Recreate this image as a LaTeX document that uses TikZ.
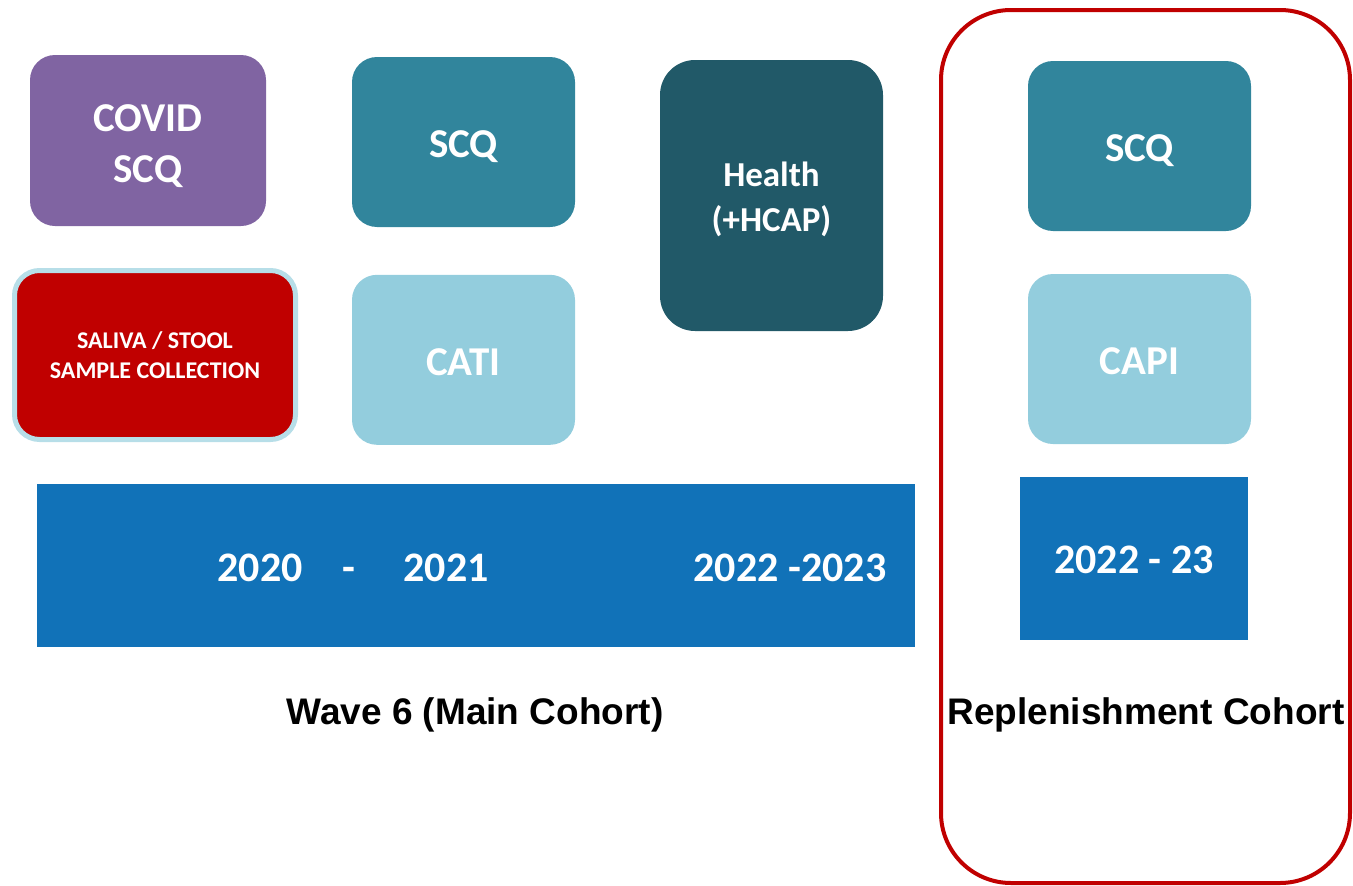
\documentclass[tikz,border=0pt]{standalone}
\usepackage{fontspec}
\setmainfont{Carlito}
\newfontfamily\arialfont{Liberation Sans}
\definecolor{cpurple}{HTML}{8064A2}
\definecolor{cteal}{HTML}{31859C}
\definecolor{cdark}{HTML}{215968}
\definecolor{clight}{HTML}{93CDDD}
\definecolor{cred}{HTML}{C00000}
\definecolor{cblue}{HTML}{1172B8}
\definecolor{cpale}{HTML}{B7DEE8}
\tikzset{
  box/.style={rounded corners=25pt, minimum width=223pt, minimum height=170pt,
    text=white, align=center, font=\bfseries\fontsize{41}{50}\selectfont, inner sep=0pt},
  band/.style={fill=cblue, inner sep=0pt, text=white, font=\bfseries\fontsize{42}{48}\selectfont},
  yr/.style={band, fill=none, anchor=base},
  caption/.style={font=\arialfont\bfseries\fontsize{37}{42}\selectfont, text=black, inner sep=0pt}
}
\begin{document}
\begin{tikzpicture}[x=1pt,y=-1pt]
\useasboundingbox (0,0) rectangle (1353,886);
% replenishment frame
\draw[cred, line width=4pt, rounded corners=70pt] (941,10) rectangle (1350,883);
\node[coordinate] (frame) at (1145,446) {};
% main cohort boxes
\node[box, fill=cpurple, minimum width=236pt, minimum height=171pt] (covid) at (148,140.5) {};
\node[text=white, font=\bfseries\fontsize{41}{50}\selectfont, anchor=base] (covidA) at (148,131) {COVID};
\node[text=white, font=\bfseries\fontsize{41}{50}\selectfont, anchor=base] (covidB) at (148,182) {SCQ};
\node[box, fill=cteal] (scq) at (463.5,142) {};
\node[text=white, font=\bfseries\fontsize{41}{50}\selectfont, anchor=base] (scqt) at (463.5,157) {SCQ};
\node[box, fill=cdark, rounded corners=35pt, minimum height=271pt] (health) at (771.5,195.5) {};
\node[text=white, font=\bfseries\fontsize{35}{46}\selectfont, anchor=base] (healthA) at (771.5,186) {Health};
\node[text=white, font=\bfseries\fontsize{35}{46}\selectfont, anchor=base] (healthB) at (771.5,231) {(+HCAP)};
\node[box, fill=cred, draw=cpale, line width=5pt, minimum width=281pt, minimum height=169pt,
      font=\bfseries\fontsize{24}{30}\selectfont] (saliva) at (155,355) {SALIVA / STOOL\\SAMPLE COLLECTION};
\node[box, fill=clight] (cati) at (463.5,445) [anchor=south] {};
\node[text=white, font=\bfseries\fontsize{41}{50}\selectfont, anchor=base] (catit) at (463.5,375) {CATI};
% timeline bar
\node[band, minimum width=878pt, minimum height=163pt] (bar) at (476,565.5) {};
\node[yr] (y2020) at (260,581) {2020};
\node[yr] (dash) at (349,581) {-};
\node[yr] (y2021) at (446,581) {2021};
\node[yr] (y2223) at (790,581) {2022 -2023};
\node[caption, anchor=base] (wave) at (475,724) {Wave 6 (Main Cohort)};
% replenishment
\node[box, fill=cteal] (rscq) at (1139.5,146) {};
\node[text=white, font=\bfseries\fontsize{41}{50}\selectfont, anchor=base] (rscqt) at (1139.5,161) {SCQ};
\node[box, fill=clight] (capi) at (1139.5,359) {};
\node[text=white, font=\bfseries\fontsize{41}{50}\selectfont, anchor=base] (capit) at (1139.5,374) {CAPI};
\node[band, minimum width=228pt, minimum height=163pt] (rbar) at (1134,558.5) {};
\node[yr] (rbart) at (1134,573) {2022 - 23};
\node[caption, anchor=base] (repl) at (1146,724) {Replenishment Cohort};
\end{tikzpicture}
\end{document}
